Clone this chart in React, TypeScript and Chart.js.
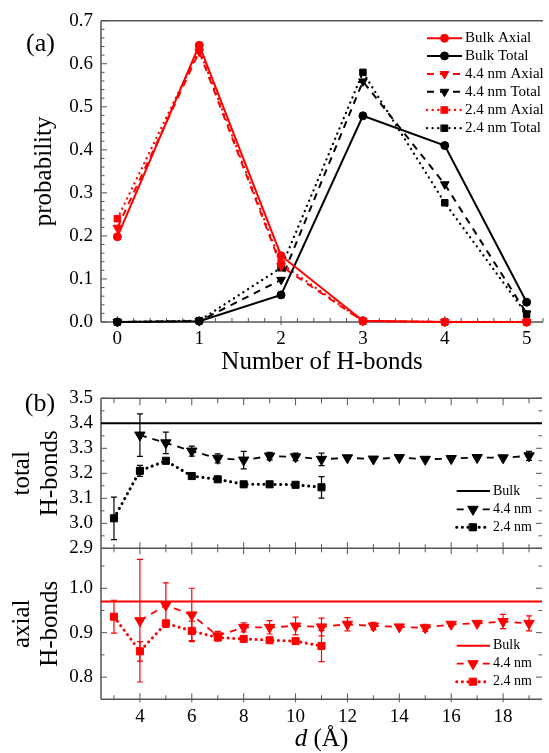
import React, { useEffect, useRef } from 'react';
import { Chart, registerables } from 'chart.js';

Chart.register(...registerables);

const FONT = "'Liberation Serif', 'Times New Roman', Times, serif";
const RED = '#ff0000';
const BLACK = '#000000';
const FRAME = '#555555';

// ---------- Panel (a): probability vs number of H-bonds ----------
const hbCounts = [0, 1, 2, 3, 4, 5];
const bulkAxial = [0.198, 0.643, 0.154, 0.003, 0.0, 0.0];
const bulkTotal = [0.0, 0.002, 0.063, 0.479, 0.41, 0.046];
const nm44Axial = [0.219, 0.628, 0.13, 0.002, 0.0, 0.0];
const nm44Total = [0.0, 0.002, 0.098, 0.559, 0.32, 0.02];
const nm24Axial = [0.24, 0.633, 0.136, 0.002, 0.0, 0.0];
const nm24Total = [0.0, 0.003, 0.126, 0.58, 0.277, 0.018];
const panelALabels = ['Bulk Axial', 'Bulk Total', '4.4 nm Axial', '4.4 nm Total', '2.4 nm Axial', '2.4 nm Total'];
const hbTicks = [0, 1, 2, 3, 4, 5];
const probTicks = [0, 0.1, 0.2, 0.3, 0.4, 0.5, 0.6, 0.7];

// ---------- Panel (b): H-bonds vs d ----------
const d44 = [4, 5, 6, 7, 8, 9, 10, 11, 12, 13, 14, 15, 16, 17, 18, 19];
const d24 = [3, 4, 5, 6, 7, 8, 9, 10, 11];
const total44 = [3.353, 3.322, 3.289, 3.26, 3.253, 3.269, 3.266, 3.256, 3.262, 3.257, 3.263, 3.256, 3.259, 3.263, 3.262, 3.27];
const total44Err = [0.085, 0.043, 0.02, 0.018, 0.035, 0.015, 0.015, 0.025, 0, 0, 0, 0, 0, 0, 0, 0.018];
const total24 = [3.02, 3.21, 3.25, 3.189, 3.176, 3.156, 3.156, 3.154, 3.144];
const total24Err = [0.085, 0.022, 0.005, 0, 0, 0, 0, 0, 0.043];
const axial44 = [0.927, 0.962, 0.94, 0.893, 0.912, 0.912, 0.915, 0.913, 0.919, 0.915, 0.913, 0.911, 0.919, 0.921, 0.925, 0.921];
const axial44Err = [0.138, 0.05, 0.06, 0.01, 0.01, 0.015, 0.02, 0.02, 0.015, 0.008, 0, 0.008, 0.005, 0, 0.016, 0.017];
const axial24 = [0.936, 0.858, 0.921, 0.904, 0.889, 0.886, 0.883, 0.881, 0.87];
const axial24Err = [0.037, 0.022, 0.005, 0.022, 0.005, 0, 0, 0, 0.035];
const bulkTotalHB = 3.4;
const bulkAxialHB = 0.97;
const panelBLabels = ['Bulk', '4.4 nm', '2.4 nm'];
const dTicks = [4, 6, 8, 10, 12, 14, 16, 18];
const totalTicks = [2.9, 3.0, 3.1, 3.2, 3.3, 3.4, 3.5];
const axialTicks = [0.8, 0.9, 1.0];
const D_MIN = 2.5;
const D_MAX = 19.5;

type Marker = 'circle' | 'tri' | 'square' | null;
interface Sty { color: string; dash: number[]; cap: CanvasLineCap; width: number; marker: Marker; r: number; }

const sA: Sty[] = [
  { color: RED, dash: [], cap: 'butt', width: 2, marker: 'circle', r: 4 },
  { color: BLACK, dash: [], cap: 'butt', width: 2, marker: 'circle', r: 4 },
  { color: RED, dash: [7, 6], cap: 'butt', width: 2, marker: 'tri', r: 5 },
  { color: BLACK, dash: [7, 6], cap: 'butt', width: 2, marker: 'tri', r: 5 },
  { color: RED, dash: [0.1, 5.5], cap: 'round', width: 2.3, marker: 'square', r: 4.6 },
  { color: BLACK, dash: [0.1, 5.5], cap: 'round', width: 2.3, marker: 'square', r: 4.6 },
];
const sBulk = (c: string): Sty => ({ color: c, dash: [], cap: 'butt', width: 2, marker: null, r: 0 });
const s44 = (c: string): Sty => ({ color: c, dash: [7, 6], cap: 'butt', width: 1.8, marker: 'tri', r: 6 });
const s24 = (c: string): Sty => ({ color: c, dash: [0.1, 5.5], cap: 'round', width: 3, marker: 'square', r: 5 });

function makeDs(label: string, xs: number[], ys: number[], s: Sty, errs?: number[]) {
  return {
    label,
    data: xs.map((x, i) => ({ x, y: ys[i] })),
    borderColor: s.color,
    backgroundColor: s.color,
    borderWidth: s.width,
    borderDash: s.dash,
    borderCapStyle: s.cap,
    pointStyle: s.marker === 'tri' ? 'triangle' : s.marker === 'square' ? 'rect' : 'circle',
    pointRotation: s.marker === 'tri' ? 180 : 0,
    pointRadius: s.marker ? s.r : 0,
    pointBackgroundColor: s.color,
    pointBorderColor: s.color,
    pointBorderWidth: 1,
    tension: 0,
    clip: false,
    errs,
  } as any;
}

function drawMarker(ctx: CanvasRenderingContext2D, m: Marker, x: number, y: number, r: number, color: string) {
  if (!m) return;
  ctx.save();
  ctx.fillStyle = color;
  ctx.strokeStyle = color;
  ctx.lineWidth = 1;
  ctx.setLineDash([]);
  ctx.beginPath();
  if (m === 'circle') {
    ctx.arc(x, y, r, 0, Math.PI * 2);
  } else if (m === 'tri') {
    const w = r * Math.sin(Math.PI / 3);
    ctx.moveTo(x, y + r);
    ctx.lineTo(x - w, y - r / 2);
    ctx.lineTo(x + w, y - r / 2);
    ctx.closePath();
  } else {
    const h = r * Math.SQRT1_2;
    ctx.rect(x - h, y - h, 2 * h, 2 * h);
  }
  ctx.fill();
  ctx.stroke();
  ctx.restore();
}

function drawLegend(ctx: CanvasRenderingContext2D, labels: string[], styles: Sty[], x0: number, x1: number, xm: number, xt: number, rows: number[], size: number) {
  ctx.save();
  labels.forEach((lab, i) => {
    const s = styles[i];
    const y = rows[i];
    ctx.strokeStyle = s.color;
    ctx.lineWidth = s.width;
    ctx.lineCap = s.cap;
    ctx.setLineDash(s.dash);
    ctx.beginPath();
    ctx.moveTo(x0, y);
    ctx.lineTo(x1, y);
    ctx.stroke();
    ctx.setLineDash([]);
    drawMarker(ctx, s.marker, xm, y, s.r, s.color);
    ctx.fillStyle = BLACK;
    ctx.font = `${size}px ${FONT}`;
    ctx.textAlign = 'left';
    ctx.textBaseline = 'middle';
    ctx.fillText(lab, xt, y);
  });
  ctx.restore();
}

function line(ctx: CanvasRenderingContext2D, x1: number, y1: number, x2: number, y2: number) {
  ctx.moveTo(x1, y1);
  ctx.lineTo(x2, y2);
}

const errorBarPlugin = {
  id: 'errbars',
  afterDatasetsDraw(chart: any) {
    const ctx: CanvasRenderingContext2D = chart.ctx;
    chart.data.datasets.forEach((ds: any, i: number) => {
      if (!ds.errs) return;
      const meta = chart.getDatasetMeta(i);
      const ys = chart.scales[meta.yAxisID];
      ctx.save();
      ctx.strokeStyle = ds.borderColor;
      ctx.lineWidth = 1.2;
      ctx.setLineDash([]);
      ctx.beginPath();
      ds.data.forEach((p: any, j: number) => {
        const e = ds.errs[j];
        if (!e) return;
        const x = meta.data[j].x;
        const t = ys.getPixelForValue(p.y + e);
        const b = ys.getPixelForValue(p.y - e);
        line(ctx, x, t, x, b);
        line(ctx, x - 3, t, x + 3, t);
        line(ctx, x - 3, b, x + 3, b);
      });
      ctx.stroke();
      ctx.restore();
    });
  },
};

const tickFont = { family: FONT, size: 19 };
const titleFont = { family: FONT, size: 25, lineHeight: 1.1 };

function yScale(min: number, max: number, tickVals: number[], title: string | string[], padTop: number) {
  return {
    type: 'linear',
    min,
    max,
    afterBuildTicks: (s: any) => { s.ticks = tickVals.map((v) => ({ value: v })); },
    afterFit: (s: any) => { s.width = 101; s.paddingTop = 0; s.paddingBottom = 0; },
    ticks: { font: tickFont, color: BLACK, padding: 8, autoSkip: false, callback: (v: any) => Number(v).toFixed(1) },
    grid: { display: false, drawTicks: false },
    border: { display: false },
    title: { display: true, text: title, font: titleFont, color: BLACK, padding: { top: padTop, bottom: 0 } },
  };
}

function xScale(min: number, max: number, tickVals: number[], height: number, display: boolean, title?: string) {
  return {
    type: 'linear',
    display,
    min,
    max,
    afterBuildTicks: (s: any) => { s.ticks = tickVals.map((v) => ({ value: v })); },
    afterFit: (s: any) => { s.height = height; s.paddingLeft = 0; s.paddingRight = 0; },
    ticks: { font: tickFont, color: BLACK, padding: 6, autoSkip: false, maxRotation: 0, callback: (v: any) => String(v) },
    grid: { display: false, drawTicks: false },
    border: { display: false },
    title: title
      ? { display: true, text: title, font: { family: FONT, size: 25 }, color: BLACK, padding: { top: 0, bottom: 3 } }
      : { display: false },
  };
}

const baseOptions = (padding: any, scales: any) => ({
  responsive: false,
  animation: false,
  events: [],
  layout: { padding },
  plugins: { legend: { display: false }, tooltip: { enabled: false } },
  scales,
});

function cfgA(): any {
  const series = [bulkAxial, bulkTotal, nm44Axial, nm44Total, nm24Axial, nm24Total];
  return {
    type: 'line',
    data: { datasets: series.map((ys, i) => makeDs(panelALabels[i], hbCounts, ys, sA[i])) },
    options: baseOptions(
      { top: 20.7, left: 0, right: 0, bottom: 0 },
      {
        x: xScale(-0.2, 5.2, hbTicks, 58, true, 'Number of H-bonds'),
        y: yScale(0, 0.7, probTicks, 'probability', 31),
      }
    ),
    plugins: [
      {
        id: 'frameA',
        beforeDatasetsDraw(chart: any) {
          const { ctx, chartArea: a, scales } = chart;
          ctx.save();
          ctx.strokeStyle = FRAME;
          ctx.lineWidth = 1.5;
          ctx.beginPath();
          line(ctx, a.left, a.top, a.right, a.top);
          line(ctx, a.left, a.top, a.left, a.bottom);
          line(ctx, a.left, a.bottom, a.right, a.bottom);
          ctx.stroke();
          ctx.lineWidth = 1;
          ctx.beginPath();
          for (let k = 0; k <= 35; k++) {
            const py = scales.y.getPixelForValue(k * 0.02);
            line(ctx, a.left, py, a.left + (k % 5 === 0 ? 6 : 3.5), py);
          }
          for (let k = -1; k <= 26; k++) {
            const px = scales.x.getPixelForValue(k * 0.2);
            if (px < a.left + 1 || px > a.right) continue;
            const major = k % 5 === 0;
            line(ctx, px, a.bottom - (major ? 6 : 4), px, a.bottom + (major ? 3 : 0));
          }
          ctx.stroke();
          ctx.restore();
        },
        afterDraw(chart: any) {
          const ctx = chart.ctx;
          drawLegend(ctx, panelALabels, sA, 427, 462, 444.5, 465, [38.3, 55.9, 74, 91.8, 110, 128.2], 15);
          ctx.save();
          ctx.fillStyle = BLACK;
          ctx.font = `26px ${FONT}`;
          ctx.textAlign = 'center';
          ctx.textBaseline = 'middle';
          ctx.fillText('(a)', 40.5, 44);
          ctx.restore();
        },
      },
    ],
  };
}

function sideTicks(ctx: CanvasRenderingContext2D, a: any, y: any, kFrom: number, kTo: number, step: number) {
  for (let k = kFrom; k <= kTo; k++) {
    const py = y.getPixelForValue(k * step);
    if (py < a.top - 0.5 || py > a.bottom + 0.5) continue;
    const len = k % 2 === 0 ? 6 : 3.5;
    line(ctx, a.left, py, a.left + len, py);
    line(ctx, a.right, py, a.right - len, py);
  }
}

function cfgB(): any {
  return {
    type: 'line',
    data: {
      datasets: [
        makeDs(panelBLabels[0], [D_MIN, D_MAX], [bulkTotalHB, bulkTotalHB], sBulk(BLACK)),
        makeDs(panelBLabels[1], d44, total44, s44(BLACK), total44Err),
        makeDs(panelBLabels[2], d24, total24, s24(BLACK), total24Err),
      ],
    },
    options: baseOptions(
      { top: 18.3, left: 0, right: 0, bottom: 11.7 },
      {
        x: xScale(D_MIN, D_MAX, dTicks, 0, false),
        y: yScale(2.9, 3.5, totalTicks, ['total', 'H-bonds'], 9),
      }
    ),
    plugins: [
      errorBarPlugin,
      {
        id: 'frameB',
        beforeDatasetsDraw(chart: any) {
          const { ctx, chartArea: a, scales } = chart;
          ctx.save();
          ctx.strokeStyle = FRAME;
          ctx.lineWidth = 1.5;
          ctx.beginPath();
          line(ctx, a.left, a.top, a.right, a.top);
          line(ctx, a.left, a.top, a.left, a.bottom);
          line(ctx, a.left, a.bottom, a.right, a.bottom);
          ctx.stroke();
          ctx.lineWidth = 1;
          ctx.beginPath();
          sideTicks(ctx, a, scales.y, 58, 70, 0.05);
          for (let d = 3; d <= 19; d++) {
            const px = scales.x.getPixelForValue(d);
            const major = d % 2 === 0;
            line(ctx, px, a.top, px, a.top + (major ? 7 : 5));
            line(ctx, px, a.bottom - (major ? 6 : 4), px, a.bottom + (major ? 6 : 4));
          }
          ctx.stroke();
          ctx.restore();
        },
        afterDraw(chart: any) {
          const ctx = chart.ctx;
          drawLegend(ctx, panelBLabels, [sBulk(BLACK), s44(BLACK), s24(BLACK)], 456.7, 490, 473, 493, [111, 129.3, 147.3], 14);
          ctx.save();
          ctx.fillStyle = BLACK;
          ctx.font = `26px ${FONT}`;
          ctx.textAlign = 'center';
          ctx.textBaseline = 'middle';
          ctx.fillText('(b)', 40, 24);
          ctx.restore();
        },
      },
    ],
  };
}

function cfgC(): any {
  return {
    type: 'line',
    data: {
      datasets: [
        makeDs(panelBLabels[0], [D_MIN, D_MAX], [bulkAxialHB, bulkAxialHB], sBulk(RED)),
        makeDs(panelBLabels[1], d44, axial44, s44(RED), axial44Err),
        makeDs(panelBLabels[2], d24, axial24, s24(RED), axial24Err),
      ],
    },
    options: baseOptions(
      { top: 8.3, left: 0, right: 0, bottom: 0 },
      {
        x: xScale(D_MIN, D_MAX, dTicks, 53.7, true),
        y: yScale(0.75, 1.09, axialTicks, ['axial', 'H-bonds'], 9),
      }
    ),
    plugins: [
      errorBarPlugin,
      {
        id: 'frameC',
        beforeDatasetsDraw(chart: any) {
          const { ctx, chartArea: a, scales } = chart;
          ctx.save();
          ctx.strokeStyle = FRAME;
          ctx.lineWidth = 1.5;
          ctx.beginPath();
          line(ctx, a.left, a.top, a.left, a.bottom);
          line(ctx, a.left, a.bottom, a.right, a.bottom);
          ctx.stroke();
          ctx.lineWidth = 1;
          ctx.beginPath();
          sideTicks(ctx, a, scales.y, 16, 21, 0.05);
          for (let d = 3; d <= 19; d++) {
            const px = scales.x.getPixelForValue(d);
            const major = d % 2 === 0;
            line(ctx, px, a.bottom - (major ? 6 : 4), px, a.bottom + (major ? 3 : 1));
          }
          ctx.stroke();
          ctx.restore();
        },
        afterDraw(chart: any) {
          const ctx: CanvasRenderingContext2D = chart.ctx;
          const a = chart.chartArea;
          drawLegend(ctx, panelBLabels, [sBulk(RED), s44(RED), s24(RED)], 456.7, 490, 473, 493, [105.7, 123.7, 141.7], 14);
          ctx.save();
          ctx.fillStyle = BLACK;
          ctx.textBaseline = 'middle';
          ctx.textAlign = 'left';
          const italic = `italic 25px ${FONT}`;
          const normal = `25px ${FONT}`;
          ctx.font = italic;
          const w1 = ctx.measureText('d').width;
          ctx.font = normal;
          const w2 = ctx.measureText(' (Å)').width;
          const cx = (a.left + a.right) / 2;
          const x0 = cx - (w1 + w2) / 2;
          const y = 199;
          ctx.font = italic;
          ctx.fillText('d', x0, y);
          ctx.font = normal;
          ctx.fillText(' (Å)', x0 + w1, y);
          ctx.restore();
        },
      },
    ],
  };
}

export default function App() {
  const refA = useRef<HTMLCanvasElement>(null);
  const refB = useRef<HTMLCanvasElement>(null);
  const refC = useRef<HTMLCanvasElement>(null);

  useEffect(() => {
    const charts = [
      new Chart(refA.current as HTMLCanvasElement, cfgA()),
      new Chart(refB.current as HTMLCanvasElement, cfgB()),
      new Chart(refC.current as HTMLCanvasElement, cfgC()),
    ];
    return () => charts.forEach((c) => c.destroy());
  }, []);

  return (
    <div style={{ position: 'absolute', left: 0, top: 0, width: 549, height: 753, background: '#ffffff', overflow: 'hidden' }}>
      <canvas ref={refA} width={549} height={380} style={{ position: 'absolute', left: 0, top: 0, width: 549, height: 380 }} />
      <canvas ref={refB} width={549} height={180} style={{ position: 'absolute', left: 0, top: 380, width: 549, height: 180 }} />
      <canvas ref={refC} width={549} height={213} style={{ position: 'absolute', left: 0, top: 540, width: 549, height: 213 }} />
    </div>
  );
}
